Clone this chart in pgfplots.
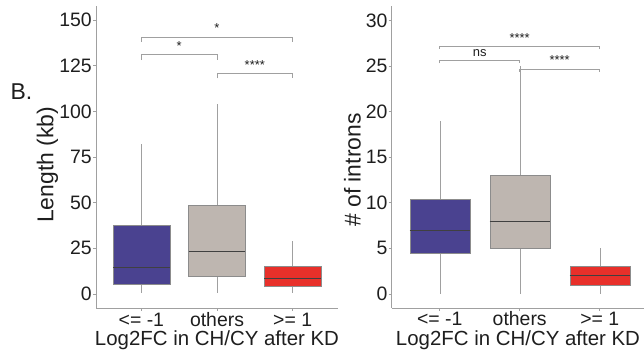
\documentclass[border=0pt]{standalone}
\usepackage{fontspec}
\setmainfont{Liberation Sans}
\usepackage{pgfplots}
\pgfplotsset{compat=1.18}
\usepgfplotslibrary{statistics}
\definecolor{cblue}{RGB}{74,66,144}
\definecolor{cgray}{RGB}{190,182,176}
\definecolor{cred}{RGB}{232,48,42}
\definecolor{axgray}{RGB}{160,160,160}
\definecolor{txt}{RGB}{30,30,30}
\tikzset{sig/.style={anchor=base, font=\fontsize{13}{14}\selectfont, text=txt, yshift=4bp}}
\pgfplotsset{
 bstyle/.style={
  scale only axis, width=242bp, height=302bp,
  axis lines=left, axis line style={-, axgray, line width=0.8bp},
  xmin=0.4, xmax=3.6, xtick={1,2,3}, xticklabels={{<= -1},{others},{>= 1}},
  tick style={axgray, line width=0.8bp}, major tick length=3bp, tick align=outside,
  /pgf/number format/assume math mode=true,
  ticklabel style={font=\fontsize{19.5}{21}\selectfont, text=txt},
  xticklabel style={anchor=base, yshift=-15bp},
  yticklabel style={inner sep=1bp},
  boxplot/draw direction=y, boxplot/whisker extend=0, boxplot/box extend=0.75,
  boxplot/every median/.style={draw=black!75, line width=1bp},
  clip=false,
 },
 brk/.style={axgray, line width=0.6bp, no marks},
}
\begin{document}
\begin{tikzpicture}
\path[use as bounding box] (0,0) rectangle (644bp,356bp);
% Left panel
\begin{axis}[bstyle, at={(96bp,48bp)}, anchor=south west,
  ymin=-7.7, ymax=157.7, ytick={0,25,50,75,100,125,150}]
\addplot[draw=axgray, boxplot/every box/.style={draw=gray!90, fill=cblue},
  boxplot prepared={lower whisker=0.5, lower quartile=5.5, median=14.3, upper quartile=37.4, upper whisker=82, draw position=1}] coordinates {};
\addplot[draw=axgray, boxplot/every box/.style={draw=gray!90, fill=cgray},
  boxplot prepared={lower whisker=0.5, lower quartile=9.9, median=23.1, upper quartile=48.4, upper whisker=103.8, draw position=2}] coordinates {};
\addplot[draw=axgray, boxplot/every box/.style={draw=gray!90, fill=cred},
  boxplot prepared={lower whisker=0.5, lower quartile=4.0, median=8.4, upper quartile=15.4, upper whisker=29, draw position=3}] coordinates {};
\addplot[brk] coordinates {(1,138) (1,140.8) (3,140.8) (3,138)};
\addplot[brk] coordinates {(1,128) (1,131) (2,131) (2,128)};
\addplot[brk] coordinates {(2,118) (2,121) (3,121) (3,118)};
\node[sig] at (axis cs:2,140.8) {*};
\node[sig] at (axis cs:1.5,131) {*};
\node[sig] at (axis cs:2.5,121) {****};
\end{axis}
% Right panel
\begin{axis}[bstyle, at={(391.7bp,48bp)}, anchor=south west, width=256bp,
  ymin=-1.54, ymax=31.6, ytick={0,5,10,15,20,25,30}]
\addplot[draw=axgray, boxplot/every box/.style={draw=gray!90, fill=cblue},
  boxplot prepared={lower whisker=0, lower quartile=4.5, median=7, upper quartile=10.45, upper whisker=19, draw position=1}] coordinates {};
\addplot[draw=axgray, boxplot/every box/.style={draw=gray!90, fill=cgray},
  boxplot prepared={lower whisker=0, lower quartile=5, median=8, upper quartile=13, upper whisker=25, draw position=2}] coordinates {};
\addplot[draw=axgray, boxplot/every box/.style={draw=gray!90, fill=cred},
  boxplot prepared={lower whisker=0, lower quartile=1, median=2, upper quartile=3, upper whisker=5, draw position=3}] coordinates {};
\addplot[brk] coordinates {(1,26.9) (1,27.2) (3,27.2) (3,26.9)};
\addplot[brk] coordinates {(1,25.3) (1,25.6) (2,25.6) (2,25.3)};
\addplot[brk] coordinates {(2,24.4) (2,24.7) (3,24.7) (3,24.4)};
\node[sig] at (axis cs:2,27.2) {****};
\node[sig] at (axis cs:1.5,25.6) {ns};
\node[sig] at (axis cs:2.5,24.7) {****};
\end{axis}
% Labels
\node[anchor=base west, font=\fontsize{23}{26}\selectfont, text=txt] at (7bp,256bp) {B.};
\node[rotate=90, font=\fontsize{23}{26}\selectfont, text=txt] at (47.5bp,191bp) {Length (kb)};
\node[rotate=90, font=\fontsize{23}{26}\selectfont, text=txt] at (352.5bp,186bp) {\# of introns};
\node[anchor=base, font=\fontsize{20.5}{22}\selectfont, text=txt] at (217bp,11bp) {Log2FC in CH/CY after KD};
\node[anchor=base, font=\fontsize{20.5}{22}\selectfont, text=txt] at (518bp,11bp) {Log2FC in CH/CY after KD};
\end{tikzpicture}
\end{document}
